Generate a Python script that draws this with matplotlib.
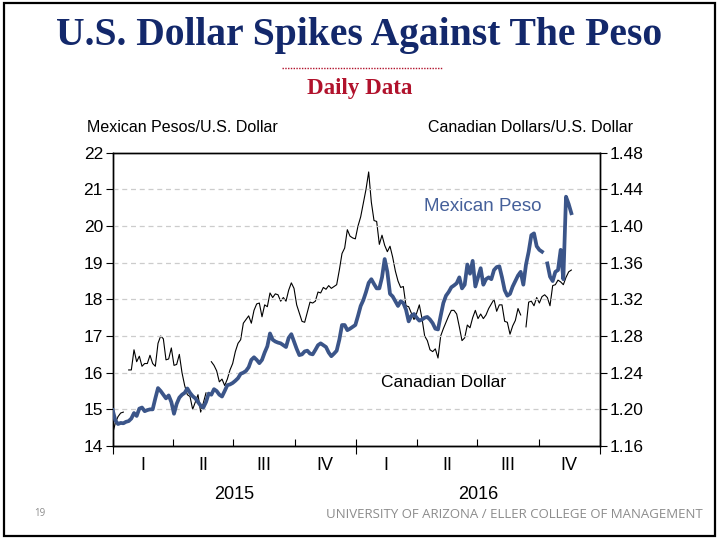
import numpy as np
import pandas as pd
import matplotlib
matplotlib.use("Agg")
import matplotlib.pyplot as plt
import matplotlib.dates as mdates
from matplotlib.lines import Line2D
from matplotlib.patches import Rectangle
from matplotlib.transforms import blended_transform_factory

nan = np.nan

# values every 4 days, starting 2015-01-01
peso = [
    14.98, 14.70, 14.60, 14.63, 14.62, 14.66, 14.68, 14.75, 14.90, 14.82,
    15.02, 15.05, 14.95, 14.98, 15.00, 15.00, 15.30, 15.58, 15.50, 15.40,
    15.30, 15.38, 15.20, 14.88, 15.15, 15.32, 15.40, 15.45, 15.57, 15.45,
    15.36, 15.30, 15.20, 15.10, 15.05, 15.20, 15.43, 15.40, 15.55, 15.50,
    15.40, 15.35, 15.50, 15.66, 15.68, 15.72, 15.78, 15.85, 15.97, 16.00,
    16.05, 16.15, 16.35, 16.42, 16.35, 16.26, 16.35, 16.55, 16.72, 17.07,
    16.90, 16.85, 16.82, 16.80, 16.75, 16.70, 16.95, 17.05, 16.85, 16.65,
    16.48, 16.50, 16.58, 16.60, 16.52, 16.50, 16.62, 16.75, 16.80, 16.75,
    16.70, 16.55, 16.45, 16.52, 16.60, 16.90, 17.30, 17.30, 17.16, 17.20,
    17.25, 17.30, 17.55, 17.82, 17.98, 18.20, 18.45, 18.55, 18.42, 18.30,
    18.30, 18.60, 19.10, 18.75, 18.15, 18.08, 17.95, 17.82, 17.95, 17.90,
    17.72, 17.40, 17.55, 17.60, 17.50, 17.42, 17.45, 17.50, 17.52, 17.45,
    17.35, 17.20, 17.18, 17.55, 17.90, 18.10, 18.20, 18.33, 18.38, 18.44,
    18.60, 18.30, 18.40, 18.95, 18.70, 19.05, 18.35, 18.60, 18.85, 18.40,
    18.55, 18.60, 18.55, 18.80, 18.88, 18.90, 18.60, 18.25, 18.10, 18.15,
    18.35, 18.50, 18.65, 18.75, 18.40, 18.95, 19.30, 19.75, 19.80, 19.45,
    19.35, 19.30, nan, 18.98, 18.62, 18.50, 18.75, 18.80, 19.35, 18.55,
    20.80, 20.60, 20.35,
]

cad = [
    1.174, 1.185, 1.192, 1.196, 1.197, nan, 1.243, 1.243, 1.265, 1.252,
    1.258, 1.247, 1.250, 1.250, 1.259, 1.250, 1.247, 1.272, 1.280, 1.277,
    1.254, 1.255, 1.267, 1.248, 1.249, 1.260, 1.240, 1.226, 1.216, 1.214,
    1.200, 1.208, 1.216, 1.197, 1.207, 1.218, nan, 1.252, 1.248, 1.242,
    1.230, 1.233, 1.226, 1.233, 1.243, 1.250, 1.263, 1.272, 1.276, 1.294,
    1.298, 1.302, 1.294, 1.308, 1.315, 1.316, 1.301, 1.314, 1.312, 1.327,
    1.322, 1.326, 1.325, 1.318, 1.322, 1.318, 1.330, 1.338, 1.332, 1.314,
    1.305, 1.296, 1.295, 1.306, 1.317, 1.316, 1.318, 1.328, 1.327, 1.333,
    1.331, 1.335, 1.332, 1.334, 1.336, 1.352, 1.370, 1.376, 1.396, 1.389,
    1.387, 1.386, 1.400, 1.410, 1.425, 1.440, 1.459, 1.426, 1.406, 1.405,
    1.380, 1.390, 1.379, 1.372, 1.378, 1.366, 1.351, 1.340, 1.333, 1.334,
    1.313, 1.312, 1.305, 1.298, 1.305, 1.314, 1.299, 1.280, 1.275, 1.265,
    1.263, 1.266, 1.256, 1.280, 1.288, 1.295, 1.302, 1.308, 1.308, 1.304,
    1.290, 1.275, 1.278, 1.292, 1.289, 1.300, 1.308, 1.299, 1.304, 1.299,
    1.303, 1.310, 1.315, 1.320, 1.307, 1.314, 1.314, 1.296, 1.295, 1.282,
    1.291, 1.297, 1.310, 1.303, nan, 1.290, 1.317, 1.318, 1.313, 1.322,
    1.316, 1.323, 1.325, 1.322, 1.313, 1.335, 1.336, 1.341, 1.339, 1.336,
    1.344, 1.350, 1.352,
]

dates = pd.date_range("2015-01-01", periods=len(peso), freq="4D")

quarter_labels = ["I", "II", "III", "IV", "I", "II", "III", "IV"]
years = ["2015", "2016"]
left_ticks = [14, 15, 16, 17, 18, 19, 20, 21, 22]
right_ticks = [1.16, 1.20, 1.24, 1.28, 1.32, 1.36, 1.40, 1.44, 1.48]

NAVY = "#13286b"
RED = "#b1122c"
BLUE = "#3b5589"
narrow = ["Liberation Sans Narrow", "Liberation Sans", "DejaVu Sans"]
sans = ["Liberation Sans", "DejaVu Sans"]

fig = plt.figure(figsize=(7.19, 5.39), dpi=100)
ax = fig.add_axes([0.1567, 0.1725, 0.6778, 0.5442])
ax2 = ax.twinx()

ax.plot(dates, peso, color=BLUE, lw=2.7, zorder=3)
ax2.plot(dates, cad, color="black", lw=0.8, zorder=2)
ax.set_zorder(ax2.get_zorder() + 1)
ax.patch.set_visible(False)

ax.set_xlim(pd.Timestamp("2015-01-01"), pd.Timestamp("2017-01-01"))
ax.set_ylim(14, 22)
ax2.set_ylim(1.16, 1.48)
ax.set_yticks(left_ticks)
ax.set_yticklabels([str(t) for t in left_ticks], family=sans, fontsize=12.5)
ax2.set_yticks(right_ticks)
ax2.set_yticklabels([f"{t:.2f}" for t in right_ticks], family=sans, fontsize=12.5)
ax.tick_params(axis="y", direction="out", length=5, width=0.8, pad=2)
ax2.tick_params(axis="y", direction="out", length=5, width=0.8, pad=2)

for v in left_ticks[1:-1]:
    ax.axhline(v, color="#cccccc", lw=0.9, ls=(0, (4, 3)), zorder=0)

# quarter ticks inward, year ticks outward
q_starts = pd.date_range("2015-01-01", "2017-01-01", freq="QS")
ax.set_xticks(q_starts)
ax.set_xticklabels([])
ax.tick_params(axis="x", direction="in", length=5, width=0.8)
ax2.tick_params(axis="x", length=0)
sec = ax.secondary_xaxis("bottom")
sec.set_xticks(pd.to_datetime(["2015-01-01", "2016-01-01", "2017-01-01"]))
sec.set_xticklabels([])
sec.tick_params(axis="x", direction="out", length=6, width=0.8)

trans = blended_transform_factory(ax.transData, ax.transAxes)
for i, lab in enumerate(quarter_labels):
    mid = q_starts[i] + (q_starts[i + 1] - q_starts[i]) / 2
    ax.text(mdates.date2num(mid), -0.065, lab, transform=trans, ha="center",
            va="center", fontsize=13, family=sans)
for i, y in enumerate(years):
    mid = pd.Timestamp(f"{y}-07-02")
    ax.text(mdates.date2num(mid), -0.165, y, transform=trans, ha="center",
            va="center", fontsize=13, family=sans)

for a in (ax, ax2):
    for s in a.spines.values():
        s.set_linewidth(1.0)

ax.text(0.76, 0.815, "Mexican Peso", transform=ax.transAxes, color="#45609a",
        fontsize=13.5, family=narrow, ha="center", va="center")
ax.text(0.68, 0.215, "Canadian Dollar", transform=ax.transAxes, color="black",
        fontsize=12.5, family=narrow, ha="center", va="center")

fig.text(0.5, 0.935, "U.S. Dollar Spikes Against The Peso", ha="center",
         va="center", color=NAVY, fontsize=28.5, fontweight="bold",
         family=["Liberation Serif", "DejaVu Serif"])
fig.add_artist(Line2D([0.392, 0.615], [0.874, 0.874], color=RED, lw=1.0,
                      ls=(0, (1, 1))))
fig.text(0.5, 0.835, "Daily Data", ha="center", va="center", color=RED,
         fontsize=16.5, fontweight="bold", family=["Liberation Serif", "DejaVu Serif"])
fig.text(0.121, 0.764, "Mexican Pesos/U.S. Dollar", ha="left", va="center",
         fontsize=11.5, family=narrow)
fig.text(0.881, 0.764, "Canadian Dollars/U.S. Dollar", ha="right", va="center",
         fontsize=11.5, family=narrow)

fig.text(0.056, 0.048, "19", ha="center", va="center", color="#8c8c8c",
         fontsize=7, family=["Open Sans", "DejaVu Sans"])
fig.text(0.978, 0.045, "UNIVERSITY OF ARIZONA / ELLER COLLEGE OF MANAGEMENT",
         ha="right", va="center", color="#8c8c8c", fontsize=9.5,
         family=["Open Sans", "DejaVu Sans"])

fig.add_artist(Rectangle((0.005, 0.006), 0.99, 0.988, transform=fig.transFigure,
                         fill=False, ec="black", lw=1.6))

fig.savefig("out.png", dpi=100)
